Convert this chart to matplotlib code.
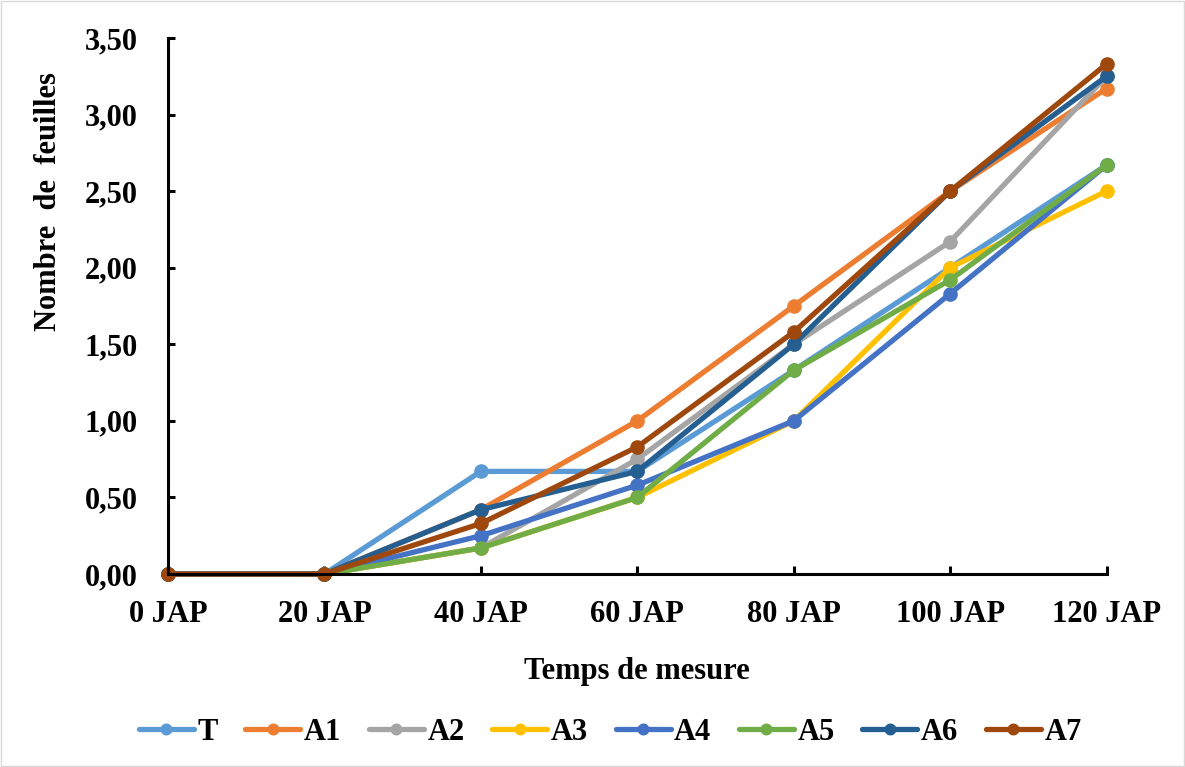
import matplotlib.pyplot as plt
import matplotlib.patches as patches

categories = ["0 JAP", "20 JAP", "40 JAP", "60 JAP", "80 JAP", "100 JAP", "120 JAP"]
series_names = ["T", "A1", "A2", "A3", "A4", "A5", "A6", "A7"]
T = [0, 0, 0.67, 0.67, 1.33, 2.00, 2.67]
A1 = [0, 0, 0.42, 1.00, 1.75, 2.50, 3.17]
A2 = [0, 0, 0.17, 0.75, 1.50, 2.17, 3.25]
A3 = [0, 0, 0.17, 0.50, 1.00, 2.00, 2.50]
A4 = [0, 0, 0.25, 0.58, 1.00, 1.83, 2.67]
A5 = [0, 0, 0.17, 0.50, 1.33, 1.92, 2.67]
A6 = [0, 0, 0.42, 0.67, 1.50, 2.50, 3.25]
A7 = [0, 0, 0.33, 0.83, 1.58, 2.50, 3.33]
colors = ["#5B9BD5", "#ED7D31", "#A5A5A5", "#FFC000",
          "#4472C4", "#70AD47", "#255E91", "#9E480E"]

plt.rcParams["font.family"] = ["Liberation Serif", "DejaVu Serif"]
plt.rcParams["font.weight"] = "bold"
fs = 22

fig = plt.figure(figsize=(11.85, 7.67), dpi=100)
ax = fig.add_axes([0.1418, 0.2516, 0.792, 0.6989])

x = list(range(len(categories)))
for name, vals, c in zip(series_names, [T, A1, A2, A3, A4, A5, A6, A7], colors):
    ax.plot(x, vals, color=c, lw=3.8, marker="o", markersize=9.5,
            label=name, solid_capstyle="round", clip_on=False)

ax.set_xlim(0, len(categories) - 1)
ax.set_ylim(0, 3.5)
ax.set_xticks(x)
ax.set_xticklabels(categories, fontsize=fs, fontweight="bold")
yt = [i * 0.5 for i in range(8)]
ax.set_yticks(yt)
ax.set_yticklabels([f"{v:.2f}".replace(".", ",") for v in yt],
                   fontsize=fs, fontweight="bold")
ax.tick_params(axis="x", direction="in", length=6, width=2.2, pad=19)
ax.tick_params(axis="y", direction="in", length=5, width=2.2, pad=22)
for s in ["top", "right"]:
    ax.spines[s].set_visible(False)
for s in ["left", "bottom"]:
    ax.spines[s].set_linewidth(2.2)

ax.set_xlabel("Temps de mesure", fontsize=fs, fontweight="bold", labelpad=20)
ax.set_ylabel("Nombre  de  feuilles", fontsize=fs, fontweight="bold")
ax.yaxis.set_label_coords(-0.112, 0.694)

fig.legend(loc="center", bbox_to_anchor=(0.515, 0.045), ncol=8, frameon=False,
           fontsize=fs, handlelength=1.8, columnspacing=0.9, handletextpad=0.12,
           markerscale=0.8)

fig.patches.append(patches.Rectangle((0.001, 0.001), 0.998, 0.998,
                                     transform=fig.transFigure, fill=False,
                                     edgecolor="#D9D9D9", lw=1))

fig.savefig("out.png", dpi=100)
